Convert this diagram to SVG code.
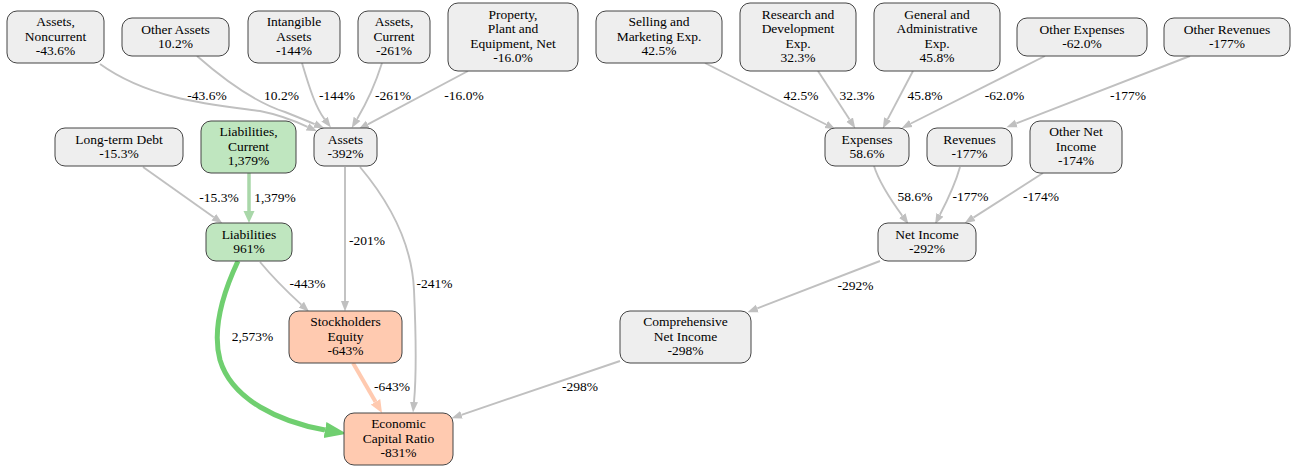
<svg xmlns="http://www.w3.org/2000/svg" width="1294" height="466" viewBox="0 0 1294 466">
<style>
.nd rect{fill:#eeeeee;stroke:#444444;stroke-width:1}
.nd.gr rect{fill:#bfe6bf}
.nd.sa rect{fill:#ffcab0}
text{font-family:"Liberation Serif","Times New Roman",serif;font-size:13.5px;fill:#000;text-anchor:middle}
.e{fill:none;stroke:#c0c0c0;stroke-width:1.9}
.eg{fill:none;stroke:#70cf70;stroke-width:5}
.elg{fill:none;stroke:#a9d7a9;stroke-width:3.5}
.es{fill:none;stroke:#ffcab0;stroke-width:4}
</style>
<defs>
<marker id="ag" markerUnits="userSpaceOnUse" markerWidth="11" markerHeight="9" refX="0" refY="4.5" orient="auto" viewBox="0 0 11 9"><path d="M0,0.5 L10.5,4.5 L0,8.5 z" fill="#c0c0c0"/></marker>
<marker id="agr" markerUnits="userSpaceOnUse" markerWidth="23" markerHeight="18" refX="0" refY="9" orient="auto" viewBox="0 0 23 18"><path d="M0,1 L22,9 L0,17 z" fill="#70cf70"/></marker>
<marker id="alg" markerUnits="userSpaceOnUse" markerWidth="13" markerHeight="12" refX="0" refY="6" orient="auto" viewBox="0 0 13 12"><path d="M0,0.5 L12,6 L0,11.5 z" fill="#a9d7a9"/></marker>
<marker id="as" markerUnits="userSpaceOnUse" markerWidth="14" markerHeight="12" refX="0" refY="6" orient="auto" viewBox="0 0 14 12"><path d="M0,0.5 L13,6 L0,11.5 z" fill="#ffcab0"/></marker>
</defs>
<g id="connectors">
<path class="e" marker-end="url(#ag)" d="M100,64 C150,100 215,105 260,111 C275,114 295,121 307.5,126.8"/>
<path class="e" marker-end="url(#ag)" d="M197,56 C230,85 260,104 285,112 C295,116 305,120 314.7,124.2"/>
<path class="e" marker-end="url(#ag)" d="M302,63 C310,90 316,108 324.5,119.1"/>
<path class="e" marker-end="url(#ag)" d="M382,63 C375,85 366,104 357.1,118.9"/>
<path class="e" marker-end="url(#ag)" d="M468,71 L367.8,124.3"/>
<path class="e" marker-end="url(#ag)" d="M705,63 L826.1,124.5"/>
<path class="e" marker-end="url(#ag)" d="M818,71 L849.6,119.6"/>
<path class="e" marker-end="url(#ag)" d="M913,71 L887.7,119.1"/>
<path class="e" marker-end="url(#ag)" d="M1045,56 L910.9,123.5"/>
<path class="e" marker-end="url(#ag)" d="M1190,56 L1016.3,123.4"/>
<path class="e" marker-end="url(#ag)" d="M874,166 C880,185 893,203 902.3,215.7"/>
<path class="e" marker-end="url(#ag)" d="M960,167 C955,185 946,203 939.9,214.8"/>
<path class="e" marker-end="url(#ag)" d="M1043,173 L973.4,217.6"/>
<path class="e" marker-end="url(#ag)" d="M880,261 L757.3,308.4"/>
<path class="e" marker-end="url(#ag)" d="M620,361 L461.5,414.8"/>
<path class="e" marker-end="url(#ag)" d="M143,167 L213.8,217.2"/>
<path class="elg" marker-end="url(#alg)" d="M249,173 L249,211"/>
<path class="e" marker-end="url(#ag)" d="M345,167 L345,301"/>
<path class="e" marker-end="url(#ag)" d="M360,167 C392,205 412,245 414,290 C416,335 417,370 414,402"/>
<path class="e" marker-end="url(#ag)" d="M260,262 C270,274 282,287 301.3,304.6"/>
<path class="eg" marker-end="url(#agr)" d="M238,261 C222,295 212,330 220,360 C232,400 280,422 325,430"/>
<path class="es" marker-end="url(#as)" d="M353,363 L375.5,401.8"/>
</g>
<g id="edge-labels">
<text x="207" y="100">-43.6%</text>
<text x="281.5" y="100">10.2%</text>
<text x="337" y="100">-144%</text>
<text x="393" y="100">-261%</text>
<text x="464" y="100">-16.0%</text>
<text x="801" y="100">42.5%</text>
<text x="857" y="100">32.3%</text>
<text x="925" y="100">45.8%</text>
<text x="1004.5" y="100">-62.0%</text>
<text x="1128" y="100">-177%</text>
<text x="915" y="201">58.6%</text>
<text x="970.5" y="201">-177%</text>
<text x="1041" y="201">-174%</text>
<text x="855.5" y="290">-292%</text>
<text x="580" y="391">-298%</text>
<text x="219" y="201.5">-15.3%</text>
<text x="275" y="201.5">1,379%</text>
<text x="367" y="245">-201%</text>
<text x="307.5" y="288">-443%</text>
<text x="434.5" y="288">-241%</text>
<text x="252.5" y="340.5">2,573%</text>
<text x="392" y="391">-643%</text>
</g>
<g id="n-assets-noncurrent" class="nd"><rect x="7" y="11" width="97" height="52" rx="10"/><text x="55.5" y="26">Assets,</text><text x="55.5" y="40.5">Noncurrent</text><text x="55.5" y="55">-43.6%</text></g>
<g id="n-other-assets" class="nd"><rect x="122" y="18" width="107" height="38" rx="10"/><text x="175.5" y="33.5">Other Assets</text><text x="175.5" y="48">10.2%</text></g>
<g id="n-intangible-assets" class="nd"><rect x="248" y="11" width="92" height="52" rx="10"/><text x="294" y="26">Intangible</text><text x="294" y="40.5">Assets</text><text x="294" y="55">-144%</text></g>
<g id="n-assets-current" class="nd"><rect x="358" y="11" width="72" height="52" rx="10"/><text x="394" y="26">Assets,</text><text x="394" y="40.5">Current</text><text x="394" y="55">-261%</text></g>
<g id="n-ppe" class="nd"><rect x="448" y="3" width="130" height="68" rx="10"/><text x="513" y="18.5">Property,</text><text x="513" y="33">Plant and</text><text x="513" y="47.5">Equipment, Net</text><text x="513" y="62">-16.0%</text></g>
<g id="n-selling" class="nd"><rect x="596" y="11" width="126" height="52" rx="10"/><text x="659" y="26">Selling and</text><text x="659" y="40.5">Marketing Exp.</text><text x="659" y="55">42.5%</text></g>
<g id="n-rd" class="nd"><rect x="740" y="3" width="116" height="68" rx="10"/><text x="798" y="18.5">Research and</text><text x="798" y="33">Development</text><text x="798" y="47.5">Exp.</text><text x="798" y="62">32.3%</text></g>
<g id="n-ga" class="nd"><rect x="874" y="3" width="126" height="68" rx="10"/><text x="937" y="18.5">General and</text><text x="937" y="33">Administrative</text><text x="937" y="47.5">Exp.</text><text x="937" y="62">45.8%</text></g>
<g id="n-other-expenses" class="nd"><rect x="1017" y="18" width="130" height="38" rx="10"/><text x="1082" y="33.5">Other Expenses</text><text x="1082" y="48">-62.0%</text></g>
<g id="n-other-revenues" class="nd"><rect x="1164" y="18" width="126" height="38" rx="10"/><text x="1227" y="33.5">Other Revenues</text><text x="1227" y="48">-177%</text></g>
<g id="n-long-term-debt" class="nd"><rect x="55" y="128" width="128" height="38" rx="10"/><text x="119" y="143.5">Long-term Debt</text><text x="119" y="158">-15.3%</text></g>
<g id="n-liabilities-current" class="nd gr"><rect x="201" y="121" width="95" height="52" rx="10"/><text x="248.5" y="136">Liabilities,</text><text x="248.5" y="150.5">Current</text><text x="248.5" y="165">1,379%</text></g>
<g id="n-assets" class="nd"><rect x="314" y="128" width="63" height="38" rx="10"/><text x="345.5" y="143.5">Assets</text><text x="345.5" y="158">-392%</text></g>
<g id="n-expenses" class="nd"><rect x="825" y="128" width="84" height="38" rx="10"/><text x="867" y="143.5">Expenses</text><text x="867" y="158">58.6%</text></g>
<g id="n-revenues" class="nd"><rect x="927" y="128" width="85" height="38" rx="10"/><text x="969.5" y="143.5">Revenues</text><text x="969.5" y="158">-177%</text></g>
<g id="n-other-net-income" class="nd"><rect x="1030" y="121" width="92" height="52" rx="10"/><text x="1076" y="136">Other Net</text><text x="1076" y="150.5">Income</text><text x="1076" y="165">-174%</text></g>
<g id="n-liabilities" class="nd gr"><rect x="206" y="223" width="86" height="38" rx="10"/><text x="249" y="238.5">Liabilities</text><text x="249" y="253">961%</text></g>
<g id="n-net-income" class="nd"><rect x="878" y="223" width="98" height="38" rx="10"/><text x="927" y="238.5">Net Income</text><text x="927" y="253">-292%</text></g>
<g id="n-stockholders-equity" class="nd sa"><rect x="289" y="311" width="113" height="52" rx="10"/><text x="345.5" y="326">Stockholders</text><text x="345.5" y="340.5">Equity</text><text x="345.5" y="355">-643%</text></g>
<g id="n-comprehensive-net-income" class="nd"><rect x="620" y="311" width="131" height="52" rx="10"/><text x="685.5" y="326">Comprehensive</text><text x="685.5" y="340.5">Net Income</text><text x="685.5" y="355">-298%</text></g>
<g id="n-economic-capital-ratio" class="nd sa"><rect x="344" y="413" width="109" height="52" rx="10"/><text x="398.5" y="428">Economic</text><text x="398.5" y="442.5">Capital Ratio</text><text x="398.5" y="457">-831%</text></g>
</svg>
